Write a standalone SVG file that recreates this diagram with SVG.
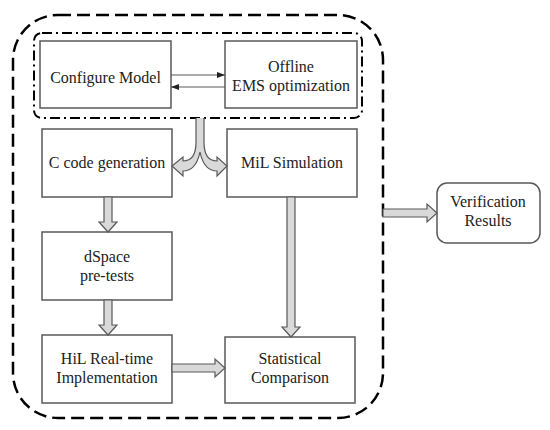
<svg xmlns="http://www.w3.org/2000/svg" width="550" height="430" viewBox="0 0 550 430">
<style>
.box{fill:#fff;stroke:#595959;stroke-width:1.5}
.t{font-family:'Liberation Serif','DejaVu Serif',serif;font-size:16px;fill:#222;text-anchor:middle}
.ba{fill:#d9d9d9;stroke:#595959;stroke-width:1.2;stroke-linejoin:miter}
.ln{stroke:#595959;stroke-width:1;fill:none}
</style>
<defs>
<marker id="ah" viewBox="0 0 8 6" refX="8" refY="3" markerWidth="8" markerHeight="6" markerUnits="userSpaceOnUse" orient="auto">
<path d="M0,0 L8,3 L0,6 Z" fill="#222"/>
</marker>
</defs>
<rect x="13" y="15" width="370" height="403" rx="45" fill="none" stroke="#000" stroke-width="2.5" stroke-dasharray="13 6"/>
<rect x="34" y="33" width="328" height="85" rx="8" fill="none" stroke="#000" stroke-width="2" stroke-dasharray="10 4 2 4"/>
<g id="configure"><rect class="box" x="40" y="41" width="131" height="67"/><text class="t" font-family="Liberation Serif, serif" x="105.5" y="83">Configure Model</text></g>
<g id="offline"><rect class="box" x="225" y="41" width="132" height="67"/><text class="t" x="291" y="72">Offline</text><text class="t" x="291" y="91">EMS optimization</text></g>
<g id="ccode"><rect class="box" x="42" y="129" width="130" height="68"/><text class="t" x="107" y="168">C code generation</text></g>
<g id="mil"><rect class="box" x="227" y="129" width="130" height="68"/><text class="t" x="292" y="168">MiL Simulation</text></g>
<g id="dspace"><rect class="box" x="42" y="232" width="130" height="68"/><text class="t" x="107" y="262">dSpace</text><text class="t" x="107" y="281">pre-tests</text></g>
<g id="hil"><rect class="box" x="42" y="335" width="130" height="68"/><text class="t" x="107" y="364">HiL Real-time</text><text class="t" x="107" y="383">Implementation</text></g>
<g id="stat"><rect class="box" x="225" y="337" width="130" height="66"/><text class="t" x="290" y="364">Statistical</text><text class="t" x="290" y="383">Comparison</text></g>
<g id="verify"><rect class="box" x="437" y="183" width="103" height="60" rx="10"/><text class="t" x="488" y="207">Verification</text><text class="t" x="488" y="226">Results</text></g>
<g id="connectors">
<line class="ln" x1="171" y1="75" x2="225" y2="75" marker-end="url(#ah)"/>
<line class="ln" x1="225" y1="87" x2="171" y2="87" marker-end="url(#ah)"/>
<path class="ba" d="M196,118 L196,142 Q196,161 183,161 L183,157 L172,166 L183,176 L183,171 Q196,171 200,152 Q204,171 217,171 L217,176 L227,166 L217,157 L217,161 Q204,161 204,142 L204,118"/>
<path class="ba" d="M104,197 L112,197 L112,222 L117,222 L108,232 L99,222 L104,222 Z"/>
<path class="ba" d="M104,300 L112,300 L112,325 L117,325 L108,335 L99,325 L104,325 Z"/>
<path class="ba" d="M287,197 L295,197 L295,327 L300,327 L291,337 L282,327 L287,327 Z"/>
<path class="ba" d="M172,364 L215,364 L215,359 L225,368 L215,377 L215,372 L172,372 Z"/>
<path class="ba" d="M383,209 L427,209 L427,204 L437,213 L427,222 L427,217 L383,217 Z"/>
</g>
</svg>
